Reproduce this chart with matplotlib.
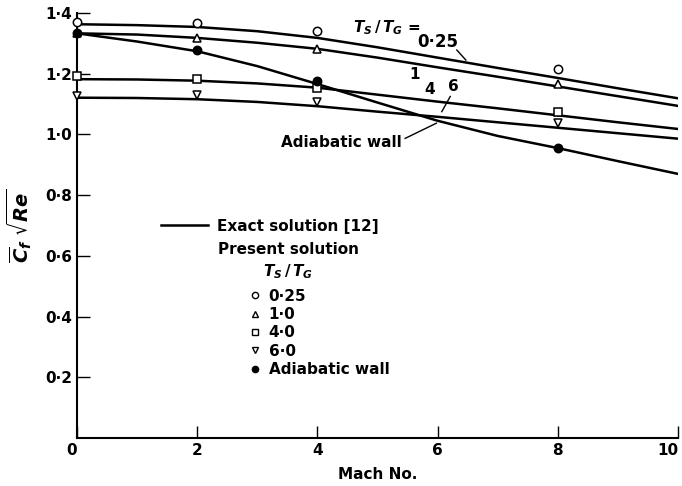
import matplotlib
matplotlib.use("Agg")
import matplotlib.pyplot as plt
from matplotlib.lines import Line2D

plt.rcParams['font.family'] = ['DejaVu Sans']
plt.rcParams['font.weight'] = 'bold'
plt.rcParams['mathtext.fontset'] = 'dejavusans'

# ---- data ----
mach_curve = [0, 1, 2, 3, 4, 5, 6, 7, 8, 9, 10]
exact_025 = [1.363, 1.360, 1.354, 1.340, 1.318, 1.287, 1.253, 1.219, 1.186, 1.152, 1.119]
exact_1 = [1.333, 1.329, 1.318, 1.302, 1.282, 1.253, 1.221, 1.190, 1.158, 1.126, 1.094]
exact_4 = [1.182, 1.181, 1.177, 1.168, 1.154, 1.131, 1.108, 1.086, 1.063, 1.040, 1.018]
exact_6 = [1.121, 1.120, 1.116, 1.107, 1.093, 1.075, 1.058, 1.040, 1.022, 1.004, 0.986]
exact_ad = [1.333, 1.306, 1.274, 1.225, 1.166, 1.105, 1.045, 0.995, 0.955, 0.912, 0.870]

mach_pts = [0, 2, 4, 8]
pres_025 = [1.370, 1.368, 1.342, 1.215]
pres_1 = [1.335, 1.319, 1.283, 1.166]
pres_4 = [1.194, 1.184, 1.154, 1.075]
pres_6 = [1.127, 1.130, 1.107, 1.037]
pres_ad = [1.335, 1.278, 1.176, 0.955]

legend_labels = ["0\u00b725", "1\u00b70", "4\u00b70", "6\u00b70", "Adiabatic wall"]
xticks = [0, 2, 4, 6, 8, 10]
xtick_labels = ["0", "2", "4", "6", "8", "10"]
yticks = [0.2, 0.4, 0.6, 0.8, 1.0, 1.2, 1.4]
ytick_labels = ["0\u00b72", "0\u00b74", "0\u00b76", "0\u00b78", "1\u00b70", "1\u00b72", "1\u00b74"]

FS = 11
fig = plt.figure(figsize=(6.82, 4.86), dpi=100)
ax = fig.add_axes([77 / 682, 48 / 486, 601 / 682, 425 / 486])

lw = 1.8
for ys in (exact_025, exact_1, exact_4, exact_6, exact_ad):
    ax.plot(mach_curve, ys, color='black', lw=lw, solid_joinstyle='round', zorder=2)

mk = dict(color='black', ls='none', ms=6, mew=1.1, clip_on=False, zorder=3)
ax.plot(mach_pts, pres_025, marker='o', mfc='white', **mk)
ax.plot(mach_pts, pres_1, marker='^', mfc='white', **mk)
ax.plot(mach_pts, pres_4, marker='s', mfc='white', **mk)
ax.plot(mach_pts, pres_6, marker='v', mfc='white', **mk)
ax.plot(mach_pts, pres_ad, marker='o', mfc='black', **mk)

ax.set_xlim(0, 10)
ax.set_ylim(0, 1.4)
for s in ('top', 'right'):
    ax.spines[s].set_visible(False)
for s in ('left', 'bottom'):
    ax.spines[s].set_linewidth(1.5)

ax.set_xticks(xticks)
ax.set_xticklabels(xtick_labels, fontsize=FS)
ax.set_yticks(yticks)
ax.set_yticklabels(ytick_labels, fontsize=FS)
ax.tick_params(direction='in', length=9, width=1.0, pad=3.6)
ax.get_xticklabels()[0].set_horizontalalignment('right')
ax.get_xticklabels()[-1].set_horizontalalignment('right')

ax.set_xlabel("Mach No.", fontsize=FS, fontweight='bold')
ax.xaxis.set_label_coords(0.5, -0.068)
ax.set_ylabel(r"$\overline{C}_f\ \sqrt{Re}$", fontsize=14)
ax.yaxis.set_label_coords(-0.072, 0.5)

# curve annotations
ax.text(4.59, 1.351, r"$T_S\,/\,T_G$ =", fontsize=FS, ha='left', va='center')
ax.text(6.01, 1.306, "0\u00b725", fontsize=FS + 1, ha='center', va='center')
ax.plot([6.32, 6.47], [1.278, 1.245], color='black', lw=1.0)
ax.text(5.61, 1.196, "1", fontsize=FS, ha='center', va='center')
ax.text(5.87, 1.147, "4", fontsize=FS, ha='center', va='center')
ax.text(6.26, 1.157, "6", fontsize=FS, ha='center', va='center')
ax.plot([6.21, 6.07], [1.125, 1.075], color='black', lw=1.0)
ax.text(5.40, 0.975, "Adiabatic wall", fontsize=FS, ha='right', va='center')
ax.plot([5.46, 5.98], [0.987, 1.037], color='black', lw=1.0)

# legends
h1 = [Line2D([], [], color='black', lw=lw)]
leg1 = ax.legend(h1, ["Exact solution [12]"], loc='upper left',
                 bbox_to_anchor=((161 - 77) / 601, (438 - 218.5) / 425),
                 frameon=False, prop={'size': FS, 'weight': 'bold'},
                 handlelength=3.07, handletextpad=0.6,
                 borderpad=0, borderaxespad=0)
ax.add_artist(leg1)
ax.text((218 - 77) / 601, (438 - 249) / 425, "Present solution", transform=ax.transAxes,
        fontsize=FS, ha='left', va='center')
ax.text((263 - 77) / 601, (438 - 272) / 425, r"$T_S\,/\,T_G$", transform=ax.transAxes,
        fontsize=FS, ha='left', va='center')

mk2 = dict(color='black', ls='none', ms=4.5, mew=1.0)
h2 = [Line2D([], [], marker='o', mfc='white', **mk2),
      Line2D([], [], marker='^', mfc='white', **mk2),
      Line2D([], [], marker='s', mfc='white', **mk2),
      Line2D([], [], marker='v', mfc='white', **mk2),
      Line2D([], [], marker='o', mfc='black', **mk2)]
leg2 = ax.legend(h2, legend_labels, loc='upper left',
                 bbox_to_anchor=((250.4 - 77) / 601, (438 - 288.5) / 425),
                 frameon=False, prop={'size': FS, 'weight': 'bold'},
                 handlelength=0.6, handletextpad=0.6,
                 labelspacing=0.22, borderpad=0, borderaxespad=0)

fig.savefig("out.png", dpi=100)
